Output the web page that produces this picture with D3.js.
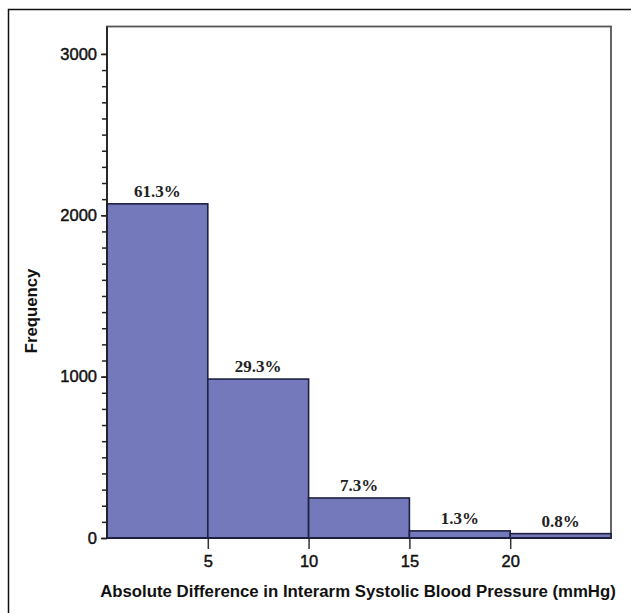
<!DOCTYPE html>
<html>
<head>
<meta charset="utf-8">
<script src="https://cdn.jsdelivr.net/npm/d3@7"></script>
<style>
  body { margin: 0; background: #fff; }
  svg { display: block; }
</style>
</head>
<body>
<div id="chart"></div>
<script>
// Data
const binStarts = [0, 5, 10, 15, 20];
const binWidth = 5;
const frequencies = [2071, 985, 248, 44, 27];
const percentLabels = ["61.3%", "29.3%", "7.3%", "1.3%", "0.8%"];
const xTickValues = [5, 10, 15, 20];
const yMajorTicks = [0, 1000, 2000, 3000];

const W = 631, H = 613;
const margin = { top: 26.5, right: 20, bottom: 75, left: 107 };
const width = W - margin.left - margin.right;
const height = H - margin.top - margin.bottom;

const svg = d3.select("#chart")
    .append("svg")
    .attr("width", W)
    .attr("height", H);

// outer frame (only left and top edges visible)
svg.append("rect")
    .attr("x", 8.5).attr("y", 9.5)
    .attr("width", 700).attr("height", 700)
    .attr("fill", "none")
    .attr("stroke", "#111")
    .attr("stroke-width", 1.5);

const g = svg.append("g")
    .attr("transform", `translate(${margin.left},${margin.top})`);

// Scales
const x = d3.scaleLinear().domain([0, 25]).range([0, width]);
const y = d3.scaleLinear().domain([0, 3170]).range([height, 0]);

// plot frame
g.append("rect")
    .attr("x", 0).attr("y", 0)
    .attr("width", width).attr("height", height)
    .attr("fill", "none")
    .attr("stroke", "#555")
    .attr("stroke-width", 1.8);

// Bars
const bars = binStarts.map((s, i) => ({ x0: s, x1: s + binWidth, n: frequencies[i], label: percentLabels[i] }));

g.selectAll("rect.bar")
    .data(bars)
    .join("rect")
    .attr("class", "bar")
    .attr("x", d => x(d.x0))
    .attr("y", d => y(d.n))
    .attr("width", d => x(d.x1) - x(d.x0))
    .attr("height", d => y(0) - y(d.n))
    .attr("fill", "#7479bb")
    .attr("stroke", "#1e2040")
    .attr("stroke-width", 1.6);

// Percent labels
g.selectAll("text.pct")
    .data(bars)
    .join("text")
    .attr("class", "pct")
    .attr("x", d => (x(d.x0) + x(d.x1)) / 2)
    .attr("y", d => y(d.n) - 7)
    .attr("text-anchor", "middle")
    .style("font-family", "'Liberation Serif', 'Times New Roman', serif")
    .style("font-weight", "bold")
    .style("font-size", "17px")
    .style("fill", "#222")
    .text(d => d.label);

// Y axis minor ticks (every 100)
const yAxis = g.append("g")
    .call(d3.axisLeft(y).tickValues(d3.range(0, 3100, 100)).tickSize(5).tickFormat(""));
yAxis.select(".domain").remove();
yAxis.selectAll(".tick line").attr("stroke", "#222").attr("stroke-width", 1.5);

// Y axis major labels
const yMajor = g.append("g")
    .call(d3.axisLeft(y).tickValues(yMajorTicks).tickSize(6).tickPadding(4).tickFormat(d3.format("d")));
yMajor.select(".domain").remove();
yMajor.selectAll(".tick line").attr("stroke", "#222").attr("stroke-width", 1.5);
yMajor.selectAll(".tick text")
    .style("font-family", "'Liberation Sans', Arial, sans-serif")
    .style("font-size", "16.5px")
    .style("fill", "#111")
    .style("stroke", "#111")
    .style("stroke-width", 0.45);

// y axis line
g.append("line")
    .attr("x1", 0).attr("x2", 0)
    .attr("y1", 0).attr("y2", height)
    .attr("stroke", "#222").attr("stroke-width", 1.8);

// X axis
const xAxis = g.append("g")
    .attr("transform", `translate(0,${height})`)
    .call(d3.axisBottom(x).tickValues(xTickValues).tickSize(11).tickPadding(6).tickFormat(d3.format("d")));
xAxis.select(".domain").remove();
xAxis.selectAll(".tick line").attr("stroke", "#333").attr("stroke-width", 1.5);
xAxis.selectAll(".tick text")
    .style("font-family", "'Liberation Sans', Arial, sans-serif")
    .style("font-size", "16.5px")
    .style("fill", "#111")
    .style("stroke", "#111")
    .style("stroke-width", 0.45);

// x axis line
g.append("line")
    .attr("x1", 0).attr("x2", width)
    .attr("y1", height).attr("y2", height)
    .attr("stroke", "#1e2040").attr("stroke-width", 1.8);

// Labels
svg.append("text")
    .attr("x", 358).attr("y", 597)
    .attr("text-anchor", "middle")
    .style("font-family", "'Liberation Sans', Arial, sans-serif")
    .style("font-weight", "bold")
    .style("font-size", "16.8px")
    .style("fill", "#111")
    .text("Absolute Difference in Interarm Systolic Blood Pressure (mmHg)");

svg.append("text")
    .attr("transform", "rotate(-90)")
    .attr("x", -311).attr("y", 37)
    .attr("text-anchor", "middle")
    .style("font-family", "'Liberation Sans', Arial, sans-serif")
    .style("font-weight", "bold")
    .style("font-size", "16.7px")
    .style("fill", "#111")
    .text("Frequency");
</script>
</body>
</html>
